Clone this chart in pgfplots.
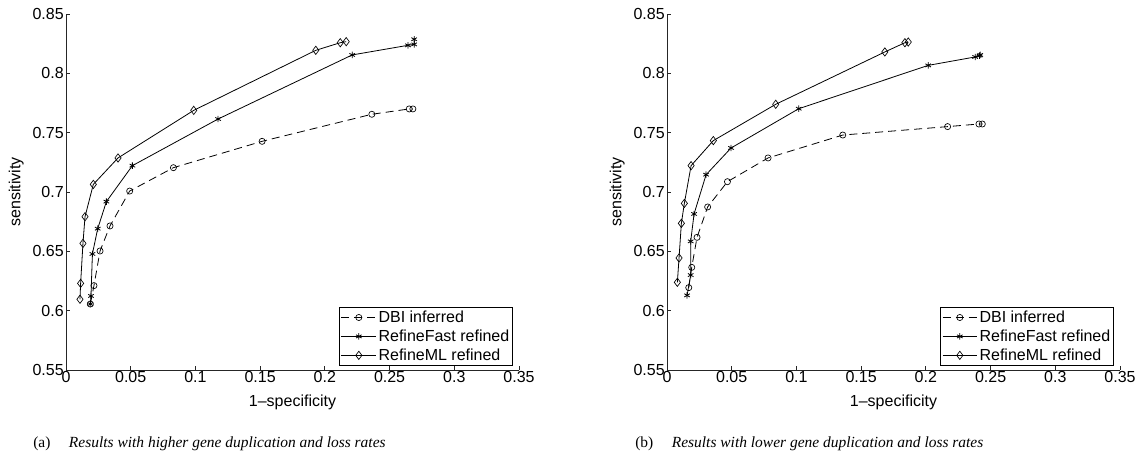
\documentclass[border=0pt]{standalone}
\usepackage{fontspec}
\setmainfont{Liberation Sans}
\newfontfamily\capfont{Liberation Serif}
\usepackage{pgfplots}
\pgfplotsset{compat=1.18}

\pgfplotsset{
  rocstyle/.style={
    scale only axis, width=339.75pt, height=267pt,
    xmin=0, xmax=0.35, ymin=0.55, ymax=0.85,
    axis x line*=bottom, axis y line*=left,
    axis line style={line width=0.6pt, black!85},
    xtick={0,0.05,0.1,0.15,0.2,0.25,0.3,0.35},
    xticklabels={0,0.05,0.1,0.15,0.2,0.25,0.3,0.35},
    ytick={0.55,0.6,0.65,0.7,0.75,0.8,0.85},
    yticklabels={0.55,0.6,0.65,0.7,0.75,0.8,0.85},
    tick align=inside, major tick length=3pt,
    tick style={line width=0.6pt, black!85},
    ticklabel style={font=\fontsize{12}{14}\selectfont},
    xticklabel style={inner sep=1pt},
    yticklabel style={inner sep=1.5pt},
    label style={font=\fontsize{12}{14}\selectfont},
    xlabel={1–specificity},
    ylabel={sensitivity},
    xlabel style={at={(axis description cs:0.5,-0.09)}, anchor=center},
    ylabel style={at={(axis description cs:-0.11,0.5)}, anchor=center},
    legend style={at={(0.603,0.011)}, anchor=south west, draw=black,
      line width=0.9pt, fill=white, inner xsep=1pt, inner ysep=1pt,
      row sep=1pt,
      font=\fontsize{12}{14}\selectfont,
      nodes={inner sep=1.5pt}},
    legend cell align=left,
    legend image code/.code={
      \draw[mark repeat=2, mark phase=2, #1]
        plot coordinates {(0pt,0pt) (13pt,0pt) (26pt,0pt)};},
  },
  dbi/.style={black, line width=0.6pt, dash pattern=on 6pt off 3.75pt,
    mark=o, mark size=2.3pt, mark options={solid, line width=0.5pt}},
  rfast/.style={black, line width=0.6pt, solid,
    mark=asterisk, mark size=2.4pt, mark options={solid, line width=0.6pt}},
  rml/.style={black, line width=0.6pt, solid,
    mark=diamond, mark size=3.1pt, mark options={solid, line width=0.5pt}},
}

\begin{document}
\begin{tikzpicture}
\useasboundingbox (0,0) rectangle (858.75pt,342.75pt);

\begin{axis}[rocstyle, at={(49.5pt,65.25pt)}, anchor=south west]
\addplot[dbi] coordinates {
 (0.0188,0.6056) (0.0216,0.6211) (0.0263,0.6503) (0.0340,0.6714)
 (0.0492,0.7008) (0.0830,0.7205) (0.1515,0.7427) (0.2363,0.7655)
 (0.2652,0.7700) (0.2680,0.7700)};
\addlegendentry{DBI inferred}
\addplot[rfast] coordinates {
 (0.0188,0.6056) (0.0193,0.6124) (0.0204,0.6478) (0.0245,0.6691)
 (0.0312,0.6919) (0.0513,0.7222) (0.1175,0.7615) (0.2211,0.8155)
 (0.2642,0.8236) (0.2690,0.8244) (0.2690,0.8287)};
\addlegendentry{RefineFast refined}
\addplot[rml] coordinates {
 (0.0108,0.6096) (0.0113,0.6230) (0.0131,0.6567) (0.0147,0.6792)
 (0.0211,0.7064) (0.0402,0.7287) (0.0987,0.7688) (0.1930,0.8194)
 (0.2119,0.8258) (0.2165,0.8267)};
\addlegendentry{RefineML refined}
\end{axis}

\begin{axis}[rocstyle, at={(500.25pt,65.25pt)}, anchor=south west]
\addplot[dbi] coordinates {
 (0.0168,0.6194) (0.0191,0.6365) (0.0232,0.6618) (0.0314,0.6874)
 (0.0467,0.7087) (0.0781,0.7287) (0.1358,0.7480) (0.2168,0.7551)
 (0.2410,0.7573) (0.2436,0.7573)};
\addlegendentry{DBI inferred}
\addplot[rfast] coordinates {
 (0.0155,0.6129) (0.0183,0.6300) (0.0183,0.6584) (0.0209,0.6815)
 (0.0302,0.7146) (0.0495,0.7371) (0.1018,0.7702) (0.2018,0.8067)
 (0.2381,0.8138) (0.2415,0.8149) (0.2420,0.8155)};
\addlegendentry{RefineFast refined}
\addplot[rml] coordinates {
 (0.0080,0.6239) (0.0093,0.6444) (0.0111,0.6736) (0.0134,0.6904)
 (0.0186,0.7222) (0.0358,0.7433) (0.0840,0.7739) (0.1683,0.8180)
 (0.1838,0.8258) (0.1864,0.8264)};
\addlegendentry{RefineML refined}
\end{axis}

\node[anchor=base west, inner sep=0pt, font=\capfont\fontsize{11.6}{13}\selectfont]
  at (24.75pt,7.5pt) {(a)\hspace{1.2em}\textit{Results with higher gene duplication and loss rates}};
\node[anchor=base west, inner sep=0pt, font=\capfont\fontsize{11.6}{13}\selectfont]
  at (476.25pt,7.5pt) {(b)\hspace{1.2em}\textit{Results with lower gene duplication and loss rates}};
\end{tikzpicture}
\end{document}
